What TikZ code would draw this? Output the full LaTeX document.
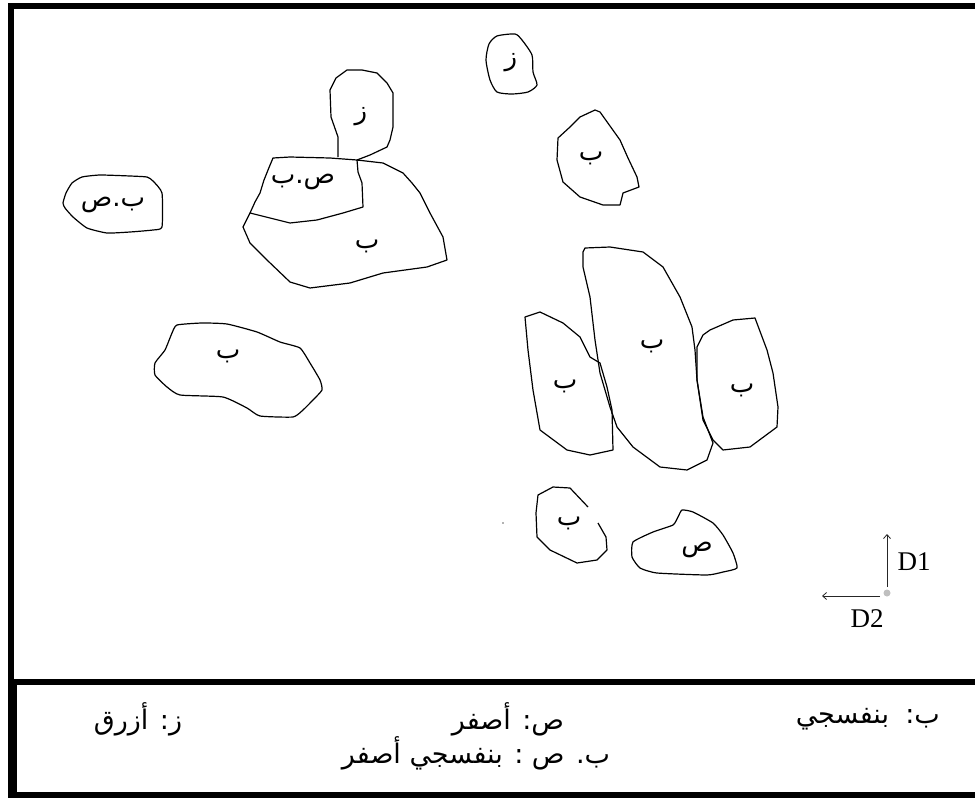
\documentclass[tikz,border=0pt]{standalone}
\usepackage{fontspec}
\setmainfont{Liberation Serif}
\newfontfamily\arabicfont[Script=Arabic]{DejaVu Sans}
\TeXXeTstate=1
\usetikzlibrary{arrows.meta}
\begin{document}
\begin{tikzpicture}[x=1pt,y=-1pt,
  blob/.style={draw=black,line width=1.2pt,line join=round},
  lbl/.style={font=\arabicfont\fontsize{26}{28}\selectfont,inner sep=0pt},
  legend/.style={font=\arabicfont\fontsize{27}{30}\selectfont,inner sep=0pt},
  dlbl/.style={font=\fontsize{27}{30}\selectfont,inner sep=0pt},
  dir/.style={draw=black!85,line width=0.8pt,-{Straight Barb[length=4pt,width=7pt]}}]
\useasboundingbox (0,0) rectangle (975,798);
% frame
\fill[black] (8,3) rectangle (975,9);
\fill[black] (8,3) rectangle (14,685);
\fill[black] (8,679) rectangle (975,685);
\fill[black] (8,679) rectangle (17,798);
\fill[black] (8,792) rectangle (975,798);

% top small z blob
\draw[blob] plot[smooth cycle,tension=0.4] coordinates {(497,36) (515,34) (522,40) (532,55) (533,72) (537,85) (528,92) (512,94) (497,92) (490,80) (486,60) (489,44)};
\node[lbl] (z1) at (511,63) {\beginR ز\endR};

% z blob above
\draw[blob] (338,157) -- (338,137) -- (331,117) -- (330,90) -- (336,78) -- (347,70) -- (362,70) -- (377,73) -- (387,83) -- (393,93) -- (393,127) -- (390,140) -- (387,147) -- (370,155) -- (357,160);
\node[lbl] (z2) at (361,117) {\beginR ز\endR};

% sad-beh blob
\draw[blob] (273,158) -- (290,157) -- (330,158) -- (357,160) -- (358,172) -- (362,183) -- (363,207) -- (343,213) -- (317,220) -- (290,223) -- (270,218) -- (250,213) -- (255,202) -- (260,193) -- (264,180) -- (268,170) -- cycle;
\node[lbl] (sb) at (303,182) {\beginR ص.ب\endR};

% big beh blob
\draw[blob] (357,160) -- (383,163) -- (403,173) -- (412,183) -- (420,193) -- (430,213) -- (443,237) -- (447,260) -- (427,267) -- (405,270) -- (383,273) -- (350,283) -- (310,288) -- (290,282) -- (267,260) -- (250,243) -- (243,227) -- (250,213);
\node[lbl] (b1) at (367,246) {\beginR ب\endR};

% left beh-sad blob
\draw[blob] plot[smooth cycle,tension=0.3] coordinates {(82,177) (100,175) (130,176) (147,177) (153,181) (162,193) (162,227) (153,230) (130,232) (107,233) (87,228) (73,217) (65,208) (63,203) (66,193) (72,183)};
\node[lbl] (bs) at (113,205) {\beginR ب.ص\endR};

% top right beh
\draw[blob] (580,117) -- (595,110) -- (600,112) -- (610,126) -- (620,140) -- (628,158) -- (637,177) -- (639,187) -- (623,193) -- (620,205) -- (603,205) -- (580,197) -- (563,182) -- (557,160) -- (558,138) -- (570,127) -- cycle;
\node[lbl] (b2) at (591,158) {\beginR ب\endR};

% left blob middle
\draw[blob] plot[smooth cycle,tension=0.3] coordinates {(177,325) (202,323) (227,324) (257,332) (280,342) (300,348) (310,363) (320,380) (322,390) (313,400) (303,410) (293,417) (260,416) (247,408) (223,397) (180,395) (167,387) (155,375) (155,363) (165,350) (172,333)};
\node[lbl] (b3) at (228,356) {\beginR ب\endR};

% tall centre beh
\draw[blob] (585,248) -- (610,247) -- (643,252) -- (663,267) -- (680,297) -- (692,327) -- (695,350) -- (697,380) -- (703,417) -- (713,443) -- (707,460) -- (687,470) -- (660,467) -- (633,447) -- (617,427) -- (610,407) -- (600,373) -- (595,340) -- (590,297) -- (583,267) -- (583,252) -- cycle;
\node[lbl] (b4) at (652,346) {\beginR ب\endR};

% left beh of the group
\draw[blob] (525,317) -- (540,312) -- (563,323) -- (580,337) -- (590,357) -- (600,363) -- (607,387) -- (612,410) -- (613,450) -- (590,455) -- (567,450) -- (540,430) -- (533,390) -- (528,350) -- cycle;
\node[lbl] (b5) at (565,386) {\beginR ب\endR};

% right beh of the group
\draw[blob] (697,347) -- (703,335) -- (710,330) -- (733,320) -- (755,318) -- (767,350) -- (773,373) -- (778,407) -- (777,427) -- (750,447) -- (723,450) -- (713,440) -- (703,420) -- (697,380) -- cycle;
\node[lbl] (b6) at (742,390) {\beginR ب\endR};

% small beh (open)
\draw[blob] (588,507) -- (570,488) -- (553,487) -- (538,495) -- (536,513) -- (537,537) -- (550,550) -- (577,563) -- (597,560) -- (607,550) -- (606,537) -- (598,523);
\node[lbl] (b7) at (569,523) {\beginR ب\endR};
\fill[black!60] (503,523) circle (0.8);

% sad blob
\draw[blob] plot[smooth cycle,tension=0.3] coordinates {(682,510) (693,512) (713,523) (723,535) (733,553) (737,568) (723,572) (707,575) (657,573) (640,568) (632,557) (633,542) (653,532) (673,525) (678,517)};
\node[lbl] (s1) at (697,550) {\beginR ص\endR};

% directions
\coordinate (o) at (887,593);
\coordinate (o1) at (887,587);
\coordinate (o2) at (880,596);
\coordinate (d1) at (887,534);
\coordinate (d2) at (822,596);
\draw[dir] (o1) -- (d1);
\draw[dir] (o2) -- (d2);
\fill[black!25] (o) circle (3.5);
\node[dlbl] (t1) at (914,562) {D1};
\node[dlbl] (t2) at (867,619) {D2};

% legend
\node[legend,anchor=east] (l1) at (940,719) {\beginR ب:\hspace{0.6em}بنفسجي\endR};
\node[legend] (l2) at (508,719) {\beginR ص: أصفر\endR};
\node[legend] (l3) at (138,719) {\beginR ز: أزرق\endR};
\node[legend] (l4) at (476,753) {\beginR ب. ص : بنفسجي أصفر\endR};
\end{tikzpicture}
\end{document}
